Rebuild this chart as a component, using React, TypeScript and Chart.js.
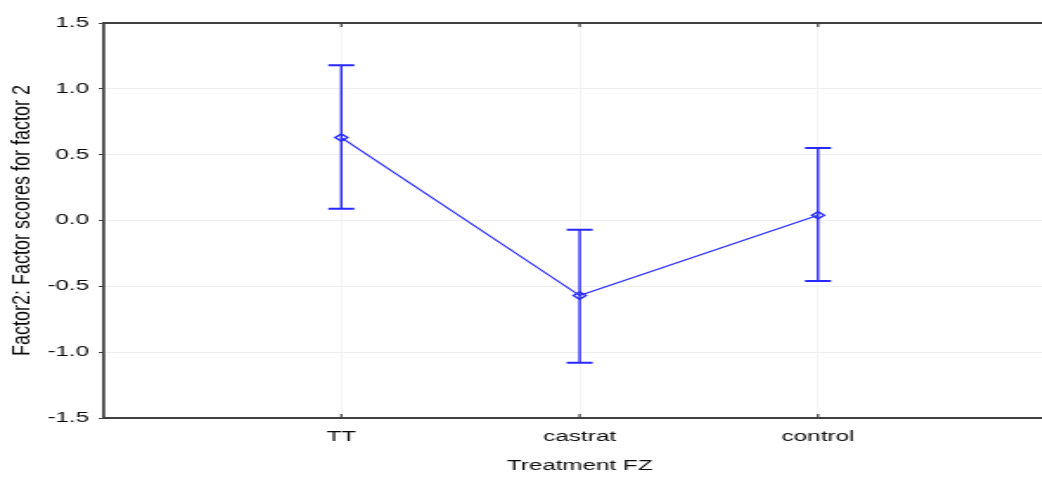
import { useEffect, useRef } from 'react';
import { Chart, registerables } from 'chart.js';

Chart.register(...registerables);

// Group means with their interval bounds
const categories = ['TT', 'castrat', 'control'];
const means = [0.63, -0.57, 0.04];
const lowerBounds = [0.09, -1.08, -0.46];
const upperBounds = [1.18, -0.07, 0.55];

const yMin = -1.5;
const yMax = 1.5;
const yStep = 0.5;

const xTitle = 'Treatment FZ';
const yTitle = 'Factor2: Factor scores for factor 2';

// The plot is drawn narrow and widened horizontally, giving the wide lettering
const STRETCH = 1.73;
const VIEW_W = 1042;
const VIEW_H = 480;
const CANVAS_W = Math.round(1065 / STRETCH);
const AXIS_LEFT = 103 / STRETCH;

const BLUE = 'rgb(40,40,255)';
const FRAME = '#404040';
const GRID = '#efefef';
const TEXT = '#0a0a0a';
const FONT = '"Liberation Sans", Arial, sans-serif';

const decorPlugin = {
  id: 'decor',
  afterDatasetsDraw(chart: any) {
    const { ctx, chartArea, scales } = chart;
    const xs = scales.x;
    const ys = scales.y;
    ctx.save();

    // top frame line
    ctx.strokeStyle = FRAME;
    ctx.lineWidth = 2;
    ctx.beginPath();
    ctx.moveTo(chartArea.left, chartArea.top);
    ctx.lineTo(chartArea.right, chartArea.top);
    ctx.stroke();

    // inward category tick marks on bottom and top frame
    ctx.lineWidth = 1.2;
    categories.forEach((_, i) => {
      const px = xs.getPixelForValue(i + 1);
      ctx.beginPath();
      ctx.moveTo(px, chartArea.bottom);
      ctx.lineTo(px, chartArea.bottom - 4);
      ctx.moveTo(px, chartArea.top);
      ctx.lineTo(px, chartArea.top + 4);
      ctx.stroke();
    });

    // interval whiskers
    ctx.strokeStyle = BLUE;
    categories.forEach((_, i) => {
      const px = xs.getPixelForValue(i + 1);
      const yl = ys.getPixelForValue(lowerBounds[i]);
      const yu = ys.getPixelForValue(upperBounds[i]);
      ctx.lineWidth = 1.4;
      ctx.beginPath();
      ctx.moveTo(px, yl);
      ctx.lineTo(px, yu);
      ctx.stroke();
      ctx.lineWidth = 2;
      ctx.beginPath();
      ctx.moveTo(px - 7.5, yl);
      ctx.lineTo(px + 7.5, yl);
      ctx.moveTo(px - 7.5, yu);
      ctx.lineTo(px + 7.5, yu);
      ctx.stroke();
    });
    ctx.restore();
  },
  afterDraw(chart: any) {
    const { ctx, chartArea, scales } = chart;
    ctx.save();
    ctx.fillStyle = TEXT;
    ctx.textAlign = 'center';
    ctx.textBaseline = 'middle';

    ctx.font = `14px ${FONT}`;
    ctx.fillText(xTitle, scales.x.getPixelForValue(2), 466);

    ctx.translate(21.5 / STRETCH, (chartArea.top + chartArea.bottom) / 2);
    ctx.scale(0.83, 1);
    ctx.rotate(-Math.PI / 2);
    ctx.font = `18px ${FONT}`;
    ctx.fillText(yTitle, 0, 0);
    ctx.restore();
  },
};

export default function App() {
  const canvasRef = useRef<HTMLCanvasElement | null>(null);

  useEffect(() => {
    const canvas = canvasRef.current;
    if (!canvas) return;
    const chart = new Chart(canvas, {
      type: 'line',
      data: {
        datasets: [
          {
            data: means.map((m, i) => ({ x: i + 1, y: m })),
            borderColor: BLUE,
            borderWidth: 1.2,
            pointStyle: 'rectRot',
            pointRadius: 3.6,
            pointBorderWidth: 1.4,
            pointBorderColor: BLUE,
            pointBackgroundColor: 'rgba(255,255,255,0)',
            tension: 0,
          },
        ],
      },
      options: {
        responsive: false,
        animation: false,
        devicePixelRatio: 1,
        layout: { padding: { top: 23, right: 2 / STRETCH, bottom: 0, left: 0 } },
        plugins: {
          legend: { display: false },
          tooltip: { enabled: false },
          title: { display: false },
        },
        scales: {
          x: {
            type: 'linear',
            min: 0,
            max: categories.length + 1,
            afterBuildTicks: (scale: any) => {
              scale.ticks = categories.map((_, i) => ({ value: i + 1 }));
            },
            afterFit: (scale: any) => {
              scale.height = 62;
            },
            ticks: {
              padding: 11,
              color: TEXT,
              font: { family: FONT, size: 14 },
              callback: (v: any) => categories[Number(v) - 1] ?? '',
              maxRotation: 0,
              autoSkip: false,
            },
            grid: { color: GRID, lineWidth: 0.7, drawTicks: false },
            border: { display: true, color: FRAME, width: 2 },
          },
          y: {
            type: 'linear',
            min: yMin,
            max: yMax,
            afterFit: (scale: any) => {
              scale.width = AXIS_LEFT;
            },
            ticks: {
              stepSize: yStep,
              padding: 5.5,
              color: TEXT,
              font: { family: FONT, size: 14 },
              callback: (v: any) => Number(v).toFixed(1),
            },
            grid: { color: GRID, lineWidth: 1, tickLength: 2.5, tickColor: FRAME },
            border: { display: true, color: FRAME, width: 1.75 },
          },
        },
      },
      plugins: [decorPlugin],
    });
    return () => chart.destroy();
  }, []);

  return (
    <div
      style={{
        position: 'fixed',
        left: 0,
        top: 0,
        width: VIEW_W,
        height: VIEW_H,
        overflow: 'hidden',
        background: '#ffffff',
      }}
    >
      <canvas
        ref={canvasRef}
        width={CANVAS_W}
        height={VIEW_H}
        style={{
          width: CANVAS_W,
          height: VIEW_H,
          transform: `scaleX(${STRETCH})`,
          transformOrigin: '0 0',
        }}
      />
    </div>
  );
}
